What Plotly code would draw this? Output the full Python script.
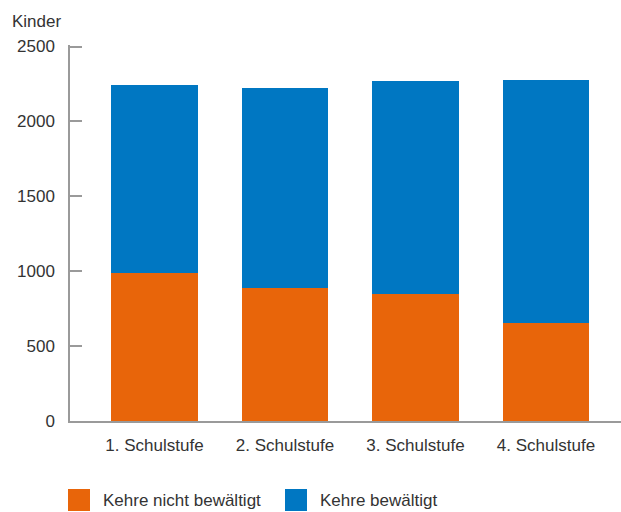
import plotly.graph_objects as go

categories = ["1. Schulstufe", "2. Schulstufe", "3. Schulstufe", "4. Schulstufe"]
series_names = ["Kehre nicht bewältigt", "Kehre bewältigt"]
nicht_bewaeltigt = [985, 885, 849, 657]
bewaeltigt = [1256, 1339, 1419, 1617]
y_ticks = [0, 500, 1000, 1500, 2000, 2500]
y_title = "Kinder"

colors = ["#E8650A", "#0077C2"]
FONT = "Liberation Sans, Arial, Helvetica, sans-serif"
TXT = "#333333"
AX = "#9a9a9a"

W, H = 621, 512
L, R, T, B = 70, 0, 45, 91
pw, ph = W - L - R, H - T - B

def px_x(x):
    return (x - L) / pw

def px_y(y):
    return (H - B - y) / ph

fig = go.Figure()
for name, vals, col in zip(series_names, [nicht_bewaeltigt, bewaeltigt], colors):
    fig.add_trace(go.Bar(x=categories, y=vals, name=name, marker=dict(color=col, line=dict(width=0)),
                         showlegend=False))

fig.update_layout(
    width=W, height=H,
    margin=dict(l=L, r=R, t=T, b=B, pad=0),
    barmode="stack", bargap=0.336,
    paper_bgcolor="white", plot_bgcolor="white",
    font=dict(family=FONT, size=17, color=TXT),
)
fig.update_xaxes(
    type="category", range=[-0.647, 3.575],
    showline=True, linecolor=AX, linewidth=1.5,
    ticks="", showgrid=False, zeroline=False,
    tickfont=dict(family=FONT, size=17, color=TXT),
    ticklabelstandoff=8,
)
fig.update_yaxes(
    range=[0, 2510], tickmode="array", tickvals=y_ticks, ticktext=[str(v) for v in y_ticks],
    showline=True, linecolor=AX, linewidth=1.5,
    ticks="inside", ticklen=12, tickcolor=AX, tickwidth=1.5,
    showgrid=False, zeroline=False,
    tickfont=dict(family=FONT, size=17, color=TXT),
    ticklabelstandoff=10,
)

# y-axis title
fig.add_annotation(text=y_title, xref="paper", yref="paper", x=px_x(10), y=px_y(22),
                   xanchor="left", yanchor="middle", showarrow=False,
                   font=dict(family=FONT, size=17, color=TXT))

# custom legend
legend_pos = [(68, 101), (285, 318)]
for (sx, tx), name, col in zip(legend_pos, series_names, colors):
    fig.add_shape(type="rect", xref="paper", yref="paper",
                  x0=px_x(sx), x1=px_x(sx + 22), y0=px_y(489), y1=px_y(511),
                  fillcolor=col, line=dict(width=0))
    fig.add_annotation(text=name, xref="paper", yref="paper", x=px_x(tx), y=px_y(500),
                       xanchor="left", yanchor="middle", showarrow=False,
                       font=dict(family=FONT, size=17, color=TXT))

fig.write_html("out.html")
